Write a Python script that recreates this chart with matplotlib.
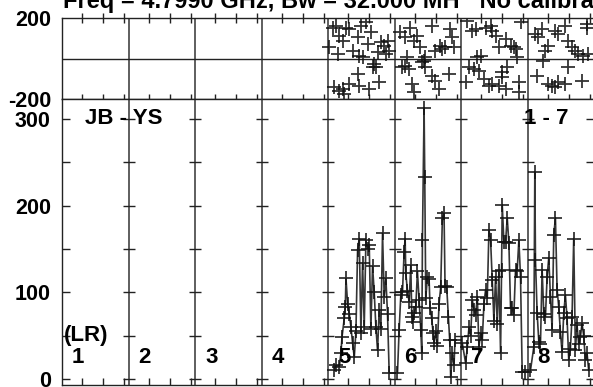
import matplotlib
matplotlib.use('Agg')
import matplotlib.pyplot as plt

plt.rcParams['font.family'] = ['Liberation Sans', 'DejaVu Sans']
plt.rcParams['font.weight'] = 'bold'

# channel panels 1..8, each 40 time units wide; data only in channels 5-8
channels = ['1', '2', '3', '4', '5', '6', '7', '8']
panel_w = 40
time_ticks = [12.3, 24.8, 37.3]

# amplitude (time in panel, value)
amp_t5 = [3.8, 4.8, 6.8, 7.8, 8.4, 9.8, 10.4, 10.8, 11.8, 12.8, 13.8, 14.8, 15.8, 16.8, 17.8,
          18.8, 19.8, 20.8, 21.8, 22.8, 23.8, 24.8, 25.8, 26.8, 27.8, 28.8, 29.8, 30.8, 31.8,
          32.8, 33.8, 34.8, 35.8, 36.8]
amp_v5 = [10, 16, 14, 30, 48, 70, 83, 116, 87, 75, 60, 41, 25, 55, 149,
          162, 53, 134, 60, 160, 150, 155, 58, 130, 100, 60, 33, 80, 58,
          168, 95, 116, 75, 7]
amp_t6 = [1.8, 2.8, 3.8, 4.8, 5.8, 6.4, 6.8, 7.8, 8.8, 9.8, 10.4, 11.2, 11.8, 12.8, 13.8,
          14.8, 15.8, 16.4, 16.8, 17.8, 18.2, 18.8, 19.8, 20.8, 21.4, 22.4, 23.2, 23.8, 24.8,
          25.8, 26.8, 27.8, 28.8, 29.8, 30.4, 31.4, 32.4, 33.2, 33.8, 34.8, 35.8, 36.4]
amp_v6 = [7, 57, 97, 100, 147, 162, 122, 101, 89, 131, 72, 66, 76, 83, 124,
          91, 57, 30, 160, 313, 233, 93, 118, 115, 82, 70, 53, 41, 55,
          38, 87, 106, 186, 191, 107, 106, 72, 45, 2, 30, 16, 45]
amp_t7 = [0.8, 2.8, 3.8, 4.8, 5.8, 6.8, 7.8, 8.8, 9.8, 10.8, 11.8, 12.8, 13.8, 14.8, 15.8,
          16.8, 17.8, 18.8, 19.8, 20.8, 21.8, 22.8, 23.8, 24.4, 24.8, 25.8, 26.8, 27.8, 28.8,
          29.8, 30.8, 31.8, 32.8, 33.8, 34.8, 35.8, 36.8, 38.2]
amp_v7 = [41, 18, 37, 60, 50, 91, 80, 74, 95, 37, 53, 45, 87, 103, 93,
          172, 160, 114, 67, 118, 63, 124, 30, 126, 201, 158, 158, 186, 157,
          82, 82, 74, 126, 125, 160, 118, 8, 8]
amp_t8 = [1.8, 3.8, 4.4, 4.8, 5.8, 6.8, 7.8, 8.8, 9.8, 10.8, 11.8, 12.8, 13.8, 14.8, 15.8,
          16.8, 17.8, 18.8, 19.8, 20.8, 21.8, 22.8, 23.8, 24.8, 25.8, 26.8, 27.8, 28.8, 29.8,
          30.8, 31.8, 32.8, 33.8, 34.8, 35.8, 36.8]
amp_v8 = [10, 37, 239, 137, 76, 43, 40, 126, 75, 72, 118, 140, 95, 57, 166,
          186, 103, 83, 54, 31, 76, 97, 70, 22, 35, 72, 162, 33, 62,
          40, 48, 64, 50, 22, 30, 10]

# phase (time in panel, degrees)
ph_t5 = [0.8, 2.8, 3.8, 4.8, 5.8, 6.8, 6.8, 8.8, 8.8, 9.8, 10.8, 12.8, 12.8, 14.8, 17.8, 17.8,
         18.8, 18.8, 19.8, 20.8, 22.8, 23.8, 24.8, 25.8, 26.8, 27.8, 28.8, 29.8, 30.8, 31.8,
         33.8, 34.8, 35.8, 36.8]
ph_v5 = [55, 149, -142, 162, 22, 113, -159, 88, -151, -175, 149, 146, -126, 39, 105, -77,
         14, -134, 162, 6, 178, 72, -151, 129, -44, -27, -44, 30, -118, 80,
         63, 22, 88, 39]
ph_t6 = [3.6, 4.6, 6.6, 6.6, 7.6, 8.6, 9.6, 10.6, 11.6, 11.6, 13.6, 15.6, 16.6, 17.6, 18.6,
         18.6, 22.6, 22.6, 24.6, 24.6, 26.6, 27.6, 28.6, 30.6, 32.6, 33.6, 34.6, 35.6]
ph_v6 = [129, -44, 105, -35, 6, -52, 149, -126, 88, -167, 113, 55, -19, -11, 6,
         -44, 162, -85, 39, -109, -151, 63, 47, 55, -77, 146, 105, 55]
ph_t7 = [2.8, 3.8, 4.8, 6.8, 7.8, 8.8, 9.8, 10.8, 11.8, 13.8, 14.8, 16.8, 17.8, 18.8, 18.8,
         20.8, 22.8, 22.8, 24.8, 24.8, 26.8, 26.8, 27.8, 29.8, 31.8, 32.8, 33.8, 34.8, 34.8, 35.8]
ph_v7 = [-118, 187, -44, 137, -52, 146, 6, -60, 14, -101, 149, -134, 162, 137, -126,
         113, 55, -134, -68, -93, 96, -151, -44, 63, 55, 47, 6, -118, -167, 179]
ph_t8 = [4.6, 5.6, 6.6, 8.6, 9.6, 10.6, 12.6, 12.6, 14.6, 16.6, 16.6, 18.6, 18.6, 22.6, 22.6,
         24.6, 24.6, 26.6, 28.6, 30.6, 32.6, 33.6, 35.6, 35.6, 36.6]
ph_v8 = [121, -85, 105, 146, -11, 39, 63, -126, -134, 137, -142, 121, -118, 162, -126,
         88, -44, 55, 39, 22, -109, 14, 149, 170, 22]

amp_sets = {5: (amp_t5, amp_v5), 6: (amp_t6, amp_v6), 7: (amp_t7, amp_v7), 8: (amp_t8, amp_v8)}
ph_sets = {5: (ph_t5, ph_v5), 6: (ph_t6, ph_v6), 7: (ph_t7, ph_v7), 8: (ph_t8, ph_v8)}

W, H = 593, 387
fig = plt.figure(figsize=(W / 100, H / 100), dpi=100)
x0, x1 = 62, 594
ax_ph = fig.add_axes([x0 / W, 1 - 99 / H, (x1 - x0) / W, 81 / H])
ax_amp = fig.add_axes([x0 / W, 2 / H, (x1 - x0) / W, (385 - 99) / H])

frame_col = '#222222'
mark_col = '#111111'
n_ch = len(channels)

for ax in (ax_ph, ax_amp):
    ax.set_xlim(0, n_ch * panel_w)
    for s in ax.spines.values():
        s.set_color(frame_col)
        s.set_linewidth(1.0)
    for i in range(1, n_ch):
        ax.axvline(i * panel_w, color='#333333', lw=1.1, zorder=1)

xt = [i * panel_w + t for i in range(n_ch) for t in time_ticks]

# phase panel
ax_ph.set_ylim(-200, 200)
ax_ph.axhline(0, color=frame_col, lw=1.0)
ax_ph.set_yticks([-200, 200])
ax_ph.set_yticklabels(['-200', '200'])
ax_ph.tick_params(axis='y', length=0, pad=8, labelsize=15.5)
ax_ph.set_xticks(xt)
ax_ph.tick_params(axis='x', which='both', bottom=True, top=True, direction='inout',
                  length=7, width=1, color=frame_col, labelbottom=False)
for ch, (t, v) in ph_sets.items():
    xs = [(ch - 1) * panel_w + ti for ti in t]
    ax_ph.plot(xs, v, ls='none', marker='+', ms=10, mew=1.3, color=mark_col, alpha=0.85)

# amplitude panel
ax_amp.set_ylim(-7, 323)
ax_amp.set_yticks([0, 100, 200, 300])
ax_amp.set_yticks([50, 150, 250], minor=True)
ax_amp.tick_params(axis='y', which='both', direction='in', length=6, width=1,
                   color=frame_col, pad=8, labelsize=15.5, right=True)
ax_amp.set_xticks(xt)
ax_amp.tick_params(axis='x', direction='in', length=5, width=1, color=frame_col,
                   labelbottom=False, top=False)
sep_y = [0, 50, 100, 150, 200, 250, 300]
for i in range(1, n_ch):
    ax_amp.plot([i * panel_w] * len(sep_y), sep_y, ls='none', marker='_', ms=9,
                mew=1.0, color=frame_col)

for ch, (t, v) in amp_sets.items():
    xs = [(ch - 1) * panel_w + ti for ti in t]
    ax_amp.plot(xs, v, color=mark_col, lw=1.2, alpha=0.85, marker='+', ms=10, mew=1.3)

ax_amp.text(14, 300, 'JB - YS', fontsize=16, fontweight='bold', va='center', ha='left')
ax_amp.text(7 * panel_w - 2, 300, '1 - 7', fontsize=16, fontweight='bold', va='center', ha='left')
ax_amp.text(1, 50, '(LR)', fontsize=16, fontweight='bold', va='center', ha='left')
for i, lab in enumerate(channels):
    ax_amp.text(i * panel_w + 6, 25, lab, fontsize=16, fontweight='bold',
                va='center', ha='left')

fig.text(63 / W, 1 - 8 / H, 'Freq = 4.7990 GHz, Bw = 32.000 MH   No calibration',
         fontsize=17, fontweight='bold', ha='left', va='baseline')

fig.savefig('out.png', dpi=100)
